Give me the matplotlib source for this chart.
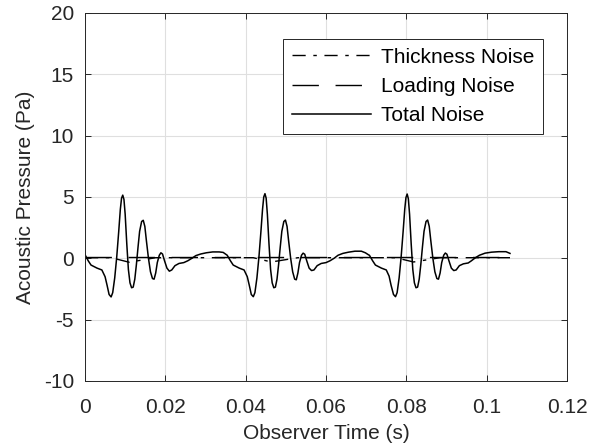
import numpy as np
import matplotlib
matplotlib.use("Agg")
import matplotlib.pyplot as plt

# Total noise (three blade passages)
time_total = [
  0.0000, 0.0008, 0.0015, 0.0030, 0.0042, 0.0050, 0.0055, 0.0060, 0.0065, 0.0069,
  0.0074, 0.0079, 0.0084, 0.0088, 0.0091, 0.0094, 0.0097, 0.0100, 0.0104, 0.0108,
  0.0112, 0.0116, 0.0120, 0.0124, 0.0128, 0.0132, 0.0136, 0.0141, 0.0145, 0.0149,
  0.0153, 0.0158, 0.0163, 0.0168, 0.0172, 0.0176, 0.0180, 0.0185, 0.0189, 0.0193,
  0.0198, 0.0204, 0.0210, 0.0216, 0.0224, 0.0234, 0.0246, 0.0256, 0.0266, 0.0276,
  0.0288, 0.0302, 0.0318, 0.0334, 0.0344, 0.0352,
  0.0354, 0.0362, 0.0369, 0.0384, 0.0396, 0.0404, 0.0409, 0.0414, 0.0419, 0.0423,
  0.0428, 0.0433, 0.0438, 0.0442, 0.0445, 0.0448, 0.0451, 0.0454, 0.0458, 0.0462,
  0.0466, 0.0470, 0.0474, 0.0478, 0.0482, 0.0486, 0.0490, 0.0495, 0.0499, 0.0503,
  0.0507, 0.0512, 0.0517, 0.0522, 0.0526, 0.0530, 0.0534, 0.0539, 0.0543, 0.0547,
  0.0552, 0.0558, 0.0564, 0.0570, 0.0578, 0.0588, 0.0600, 0.0610, 0.0620, 0.0630,
  0.0642, 0.0656, 0.0672, 0.0688, 0.0698, 0.0706,
  0.0708, 0.0716, 0.0723, 0.0738, 0.0750, 0.0757, 0.0762, 0.0768, 0.0773, 0.0777,
  0.0782, 0.0787, 0.0792, 0.0796, 0.0799, 0.0802, 0.0805, 0.0808, 0.0812, 0.0816,
  0.0820, 0.0824, 0.0828, 0.0832, 0.0836, 0.0840, 0.0844, 0.0849, 0.0853, 0.0857,
  0.0861, 0.0866, 0.0871, 0.0876, 0.0880, 0.0884, 0.0888, 0.0893, 0.0897, 0.0901,
  0.0906, 0.0912, 0.0918, 0.0924, 0.0932, 0.0942, 0.0954, 0.0962, 0.0972, 0.0982,
  0.0996, 0.1012, 0.1030, 0.1048, 0.1058,
]
total_noise = [
  0.30, -0.20, -0.55, -0.80, -0.95, -1.50, -2.20, -2.95, -3.15, -2.80,
  -1.60, 0.10, 2.20, 4.00, 4.90, 5.15, 4.80, 3.60, 1.20, -0.90,
  -2.00, -2.40, -2.35, -1.70, -0.50, 0.90, 2.20, 3.00, 3.10, 2.60,
  1.40, 0.00, -1.10, -1.65, -1.70, -1.20, -0.35, 0.25, 0.45, 0.35,
  -0.20, -0.80, -1.05, -0.95, -0.60, -0.42, -0.35, -0.20, 0.00, 0.22,
  0.35, 0.45, 0.52, 0.52, 0.48, 0.30,
  0.25, -0.20, -0.55, -0.80, -0.95, -1.50, -2.20, -2.95, -3.13, -2.80,
  -1.60, 0.10, 2.20, 4.00, 5.00, 5.27, 4.90, 3.60, 1.20, -0.90,
  -2.00, -2.40, -2.35, -1.70, -0.50, 0.90, 2.20, 3.00, 3.12, 2.60,
  1.40, 0.00, -1.10, -1.70, -1.75, -1.20, -0.35, 0.25, 0.42, 0.33,
  -0.20, -0.80, -1.00, -0.95, -0.60, -0.42, -0.35, -0.20, 0.00, 0.25,
  0.40, 0.50, 0.58, 0.58, 0.45, 0.28,
  0.25, -0.20, -0.55, -0.80, -0.95, -1.45, -2.20, -2.95, -3.13, -2.80,
  -1.60, 0.10, 2.20, 4.00, 4.95, 5.24, 4.85, 3.60, 1.20, -0.90,
  -2.00, -2.40, -2.35, -1.70, -0.50, 0.90, 2.20, 3.00, 3.12, 2.60,
  1.40, 0.00, -1.10, -1.65, -1.70, -1.20, -0.35, 0.25, 0.43, 0.33,
  -0.20, -0.80, -1.00, -0.95, -0.60, -0.45, -0.38, -0.20, 0.05, 0.25,
  0.42, 0.50, 0.54, 0.54, 0.40,
]

# Thickness noise: near zero with a small dip after each pulse
time_thickness = [0.0000, 0.0065, 0.0110, 0.0176, 0.0354, 0.0419, 0.0464, 0.0530,
                  0.0708, 0.0773, 0.0818, 0.0884, 0.1058]
thickness_noise = [0.05, 0.05, -0.32, 0.05, 0.05, 0.05, -0.30, 0.05,
                   0.05, 0.05, -0.30, 0.05, 0.05]

# Loading noise: flat, close to zero
time_loading = [0.0000, 0.0354, 0.0708, 0.1058]
loading_noise = [0.08, 0.08, 0.08, 0.08]

x_ticks = [0, 0.02, 0.04, 0.06, 0.08, 0.1, 0.12]
x_tick_labels = ["0", "0.02", "0.04", "0.06", "0.08", "0.1", "0.12"]
y_ticks = [-10, -5, 0, 5, 10, 15, 20]
y_tick_labels = ["-10", "-5", "0", "5", "10", "15", "20"]

plt.rcParams["font.family"] = ["Liberation Sans", "DejaVu Sans"]
plt.rcParams["font.size"] = 15

axis_color = "#262626"

fig = plt.figure(figsize=(5.96, 4.47), dpi=100)
ax = fig.add_axes([0.1426, 0.1477, 0.8088, 0.8233])

ax.plot(time_thickness, thickness_noise, color="black", lw=1.0,
        dashes=(9.5, 5.5, 2.5, 5.5), label="Thickness Noise")
ax.plot(time_loading, loading_noise, color="black", lw=1.0,
        dashes=(19, 12), label="Loading Noise")
ax.plot(time_total, total_noise, color="black", lw=1.1, label="Total Noise")

ax.set_xlim(0, 0.12)
ax.set_ylim(-10, 20)
ax.set_xticks(x_ticks)
ax.set_xticklabels(x_tick_labels)
ax.set_yticks(y_ticks)
ax.set_yticklabels(y_tick_labels)

ax.grid(True, color="#dfdfdf", lw=0.8)
ax.set_axisbelow(True)
ax.tick_params(direction="in", top=True, right=True, length=4, width=0.7,
               colors=axis_color, labelcolor=axis_color)
ax.tick_params(axis="x", pad=12)
ax.tick_params(axis="y", pad=8)
for spine in ax.spines.values():
  spine.set_color(axis_color)
  spine.set_linewidth(0.7)

ax.set_xlabel("Observer Time (s)", color=axis_color, labelpad=5)
ax.set_ylabel("Acoustic Pressure (Pa)", color=axis_color, labelpad=6)

leg = ax.legend(loc="upper right", bbox_to_anchor=(0.950, 0.9285),
                handlelength=3.8, handletextpad=0.5, borderpad=0.4,
                borderaxespad=0.0, labelspacing=0.5, fancybox=False,
                framealpha=1.0, edgecolor=axis_color)
leg.get_frame().set_linewidth(0.7)

fig.savefig("out.png", dpi=100)
